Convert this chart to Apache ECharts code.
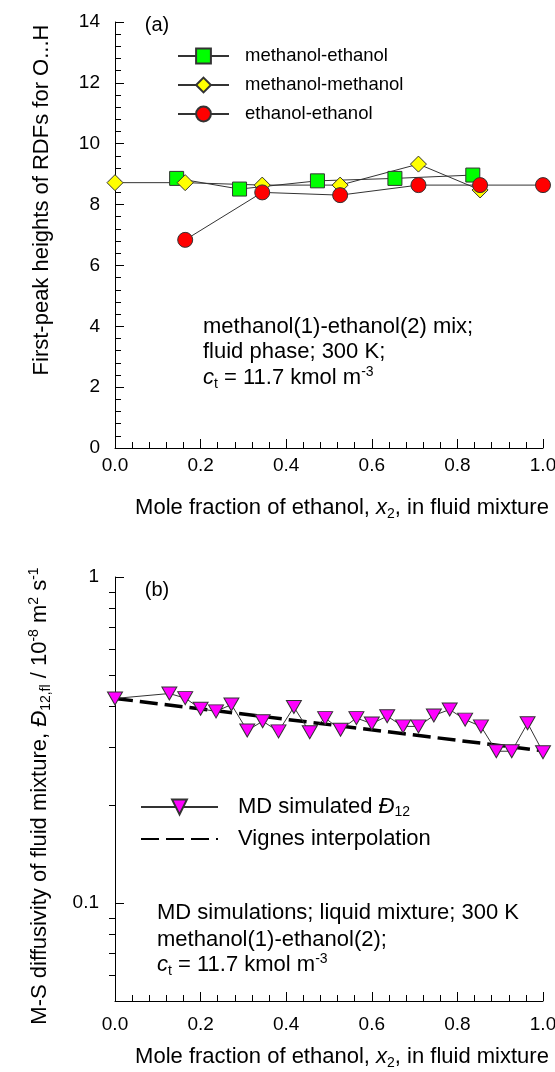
<!DOCTYPE html>
<html><head><meta charset="utf-8">
<script src="https://cdn.jsdelivr.net/npm/echarts@6/dist/echarts.min.js"></script>
<style>html,body{margin:0;padding:0;background:#fff}#c{width:555px;height:1072px}</style>
</head><body><div id="c"></div>
<script>
// ---- Panel (a): first-peak heights of RDFs for O...H ----
const xMeEt = [0.144, 0.291, 0.473, 0.654, 0.836];
const yMeEt = [8.86, 8.51, 8.78, 8.86, 8.97];
const xMeMe = [0, 0.164, 0.344, 0.526, 0.709, 0.853];
const yMeMe = [8.72, 8.72, 8.64, 8.64, 9.33, 8.48];
const xEtEt = [0.164, 0.344, 0.526, 0.709, 0.853, 1.0];
const yEtEt = [6.84, 8.40, 8.31, 8.64, 8.64, 8.64];
const seriesNamesA = ['methanol-ethanol', 'methanol-methanol', 'ethanol-ethanol'];

// ---- Panel (b): M-S diffusivity ----
const xMD = [0, 0.127, 0.164, 0.200, 0.236, 0.272, 0.309, 0.345, 0.382, 0.418, 0.455, 0.491, 0.527,
             0.564, 0.600, 0.636, 0.673, 0.709, 0.745, 0.782, 0.818, 0.855, 0.891, 0.927, 0.964, 1.0];
const yMD = [0.424, 0.439, 0.425, 0.394, 0.387, 0.406, 0.338, 0.361, 0.336, 0.399, 0.334, 0.369, 0.340,
             0.369, 0.355, 0.374, 0.348, 0.348, 0.376, 0.392, 0.365, 0.348, 0.292, 0.292, 0.356, 0.290];
const xVignes = [0, 1.0];
const yVignes = [0.424, 0.293];
const seriesNamesB = ['MD simulated', 'Vignes interpolation'];

// ---- tick values ----
const xTickInterval = 0.2;
const yTickIntervalA = 2;
const yMajorTicksB = [0.1, 1];
const yMinorTicksB = [0.06, 0.07, 0.08, 0.09, 0.2, 0.3, 0.4, 0.5, 0.6, 0.7, 0.8, 0.9];

const FONT = '"Liberation Sans", Arial, Helvetica, sans-serif';
const zip = (xs, ys) => xs.map((x, i) => [x, ys[i]]);

const chart = echarts.init(document.getElementById('c'), null, {renderer: 'canvas'});

const axisBase = {
  axisLine: {show: true, onZero: false, lineStyle: {color: '#000', width: 1}},
  axisTick: {show: true, inside: true, length: 9, lineStyle: {color: '#000', width: 1}},
  minorTick: {show: true, splitNumber: 5, length: 6, lineStyle: {color: '#000', width: 1}},
  splitLine: {show: false},
  minorSplitLine: {show: false}
};
const labelBase = {color: '#000', fontSize: 19, fontFamily: FONT};

const richBase = (fs, lh) => ({
  i: {fontStyle: 'italic', fontSize: fs, lineHeight: lh, fontFamily: FONT, color: '#000'},
  sub: {fontSize: Math.round(fs * 0.65), lineHeight: Math.round(fs * 0.65), verticalAlign: 'bottom', fontFamily: FONT, color: '#000'},
  sup: {fontSize: Math.round(fs * 0.65), lineHeight: Math.round(fs * 0.65), verticalAlign: 'top', fontFamily: FONT, color: '#000'}
});

function txt(x, y, text, fs, opts) {
  opts = opts || {};
  const lh = Math.round(fs * 1.2);
  return {
    type: 'text', x: x, y: y, rotation: opts.rotation || 0, z: 100,
    style: {
      text: text, fill: '#000', fontSize: fs, fontFamily: FONT, lineHeight: lh,
      align: opts.align || 'left', textAlign: opts.align || 'left',
      verticalAlign: 'middle', textVerticalAlign: 'middle',
      rich: richBase(fs, lh)
    }
  };
}

const legendMap = {
  'MD simulated': 'MD simulated {i|\u0110}{sub|12}',
  'Vignes interpolation': 'Vignes interpolation'
};

const option = {
  animation: false,
  backgroundColor: '#fff',
  grid: [
    {left: 115, right: 12, top: 22, height: 426, containLabel: false, outerBoundsMode: 'none'},
    {left: 115, right: 12, top: 577, height: 424, containLabel: false, outerBoundsMode: 'none'}
  ],
  xAxis: [
    Object.assign({}, axisBase, {gridIndex: 0, type: 'value', min: 0, max: 1, interval: xTickInterval,
      axisLabel: Object.assign({}, labelBase, {margin: 8, formatter: v => v.toFixed(1)})}),
    Object.assign({}, axisBase, {gridIndex: 1, type: 'value', min: 0, max: 1, interval: xTickInterval,
      axisLabel: Object.assign({}, labelBase, {margin: 14, formatter: v => v.toFixed(1)})})
  ],
  yAxis: [
    Object.assign({}, axisBase, {gridIndex: 0, type: 'value', min: 0, max: 14, interval: yTickIntervalA,
      axisLabel: Object.assign({}, labelBase, {margin: 15})}),
    {gridIndex: 1, type: 'log', logBase: 10, min: 0.05, max: 1,
      axisLine: {show: true, onZero: false, lineStyle: {color: '#000', width: 1}},
      axisTick: {show: true, inside: true, length: 9, customValues: yMajorTicksB, lineStyle: {color: '#000', width: 1}},
      axisLabel: Object.assign({}, labelBase, {margin: 16, customValues: yMajorTicksB,
        formatter: v => String(+(+v).toPrecision(3))}),
      minorTick: {show: false}, splitLine: {show: false}},
    {gridIndex: 1, type: 'log', logBase: 10, min: 0.05, max: 1,
      axisLine: {show: false},
      axisTick: {show: true, inside: true, length: 6, customValues: yMinorTicksB, lineStyle: {color: '#000', width: 1}},
      axisLabel: {show: false}, minorTick: {show: false}, splitLine: {show: false}}
  ],
  legend: [
    {data: seriesNamesA, orient: 'vertical', left: 177, top: 46,
      itemWidth: 51, itemHeight: 18.5, itemGap: 9, padding: 0,
      textStyle: {fontSize: 18.5, lineHeight: 20, fontFamily: FONT, color: '#000', padding: [0, 0, 0, 11]}},
    {data: [{name: seriesNamesB[0]}, {name: seriesNamesB[1], itemStyle: {opacity: 0}}],
      orient: 'vertical', left: 140, top: 795,
      itemWidth: 77, itemHeight: 18.5, itemGap: 8, padding: 0,
      formatter: n => legendMap[n],
      textStyle: {fontSize: 22, lineHeight: 24, fontFamily: FONT, color: '#000', padding: [0, 0, 0, 15],
        rich: {i: {fontStyle: 'italic', fontSize: 22, lineHeight: 24, fontFamily: FONT, color: '#000'},
               sub: {fontSize: 14, lineHeight: 14, verticalAlign: 'bottom', fontFamily: FONT, color: '#000'}}}}
  ],
  series: [
    {name: seriesNamesA[0], type: 'line', xAxisIndex: 0, yAxisIndex: 0, data: zip(xMeEt, yMeEt),
      symbol: 'rect', symbolSize: 14, showAllSymbol: true,
      lineStyle: {color: '#333', width: 1}, itemStyle: {color: '#00ff00', borderColor: '#333', borderWidth: 1}},
    {name: seriesNamesA[1], type: 'line', xAxisIndex: 0, yAxisIndex: 0, data: zip(xMeMe, yMeMe),
      symbol: 'diamond', symbolSize: 16, showAllSymbol: true,
      lineStyle: {color: '#333', width: 1}, itemStyle: {color: '#ffff00', borderColor: '#333', borderWidth: 1}},
    {name: seriesNamesA[2], type: 'line', xAxisIndex: 0, yAxisIndex: 0, data: zip(xEtEt, yEtEt),
      symbol: 'circle', symbolSize: 15, showAllSymbol: true,
      lineStyle: {color: '#333', width: 1}, itemStyle: {color: '#ff0000', borderColor: '#333', borderWidth: 1}},
    {name: seriesNamesB[1], type: 'line', xAxisIndex: 1, yAxisIndex: 1, data: zip(xVignes, yVignes),
      symbol: 'none', lineStyle: {color: '#000', width: 3.5, type: [18, 7]}, itemStyle: {color: '#000'}},
    {name: seriesNamesB[0], type: 'line', xAxisIndex: 1, yAxisIndex: 1, data: zip(xMD, yMD),
      symbol: 'triangle', symbolRotate: 180, symbolSize: [15, 13], showAllSymbol: true,
      lineStyle: {color: '#333', width: 1}, itemStyle: {color: '#ff00ff', borderColor: '#333', borderWidth: 1}}
  ],
  graphic: [
    txt(157, 25, '(a)', 20, {align: 'center'}),
    txt(157, 590, '(b)', 20, {align: 'center'}),
    txt(203, 327, 'methanol(1)-ethanol(2) mix;', 22),
    txt(203, 352, 'fluid phase; 300 K;', 22),
    txt(203, 378, '{i|c}{sub|t} = 11.7 kmol m{sup|-3}', 22),
    txt(157, 913, 'MD simulations; liquid mixture; 300 K', 22),
    txt(157, 940, 'methanol(1)-ethanol(2);', 22),
    txt(157, 965, '{i|c}{sub|t} = 11.7 kmol m{sup|-3}', 22),
    txt(342, 508, 'Mole fraction of ethanol, {i|x}{sub|2}, in fluid mixture', 22, {align: 'center'}),
    txt(342, 1057, 'Mole fraction of ethanol, {i|x}{sub|2}, in fluid mixture', 22, {align: 'center'}),
    txt(42, 200, 'First-peak heights of RDFs for O...H', 22, {align: 'center', rotation: Math.PI / 2}),
    txt(40, 796, 'M-S diffusivity of fluid mixture, {i|\u0110}{sub|12,fl} / 10{sup|-8} m{sup|2} s{sup|-1}', 22,
        {align: 'center', rotation: Math.PI / 2})
  ]
};
chart.setOption(option);
</script>
</body></html>
